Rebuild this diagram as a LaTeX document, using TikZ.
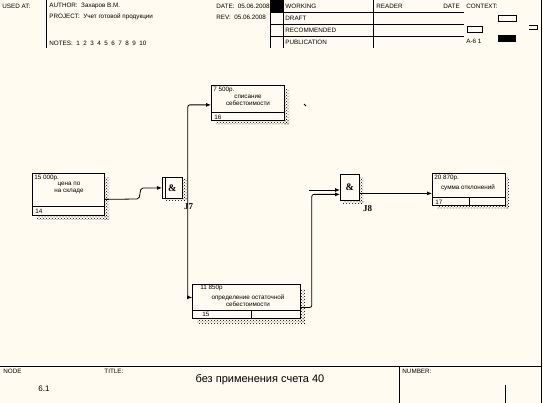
\documentclass[tikz,border=0pt]{standalone}
\usepackage{fontspec}
\setmainfont{Liberation Sans}
\newfontfamily\jfont{Liberation Serif}
\usetikzlibrary{positioning, arrows.meta, patterns}
\definecolor{paper}{RGB}{255,251,240}

\begin{document}
\begin{tikzpicture}[x=1pt, y=-1pt, line width=0.8pt,
    uob/.style={rectangle, draw, fill=paper, anchor=north west, inner sep=0pt},
    junc/.style={rectangle, draw, fill=paper, anchor=north west, inner sep=0pt, minimum width=20pt, minimum height=21pt, font=\jfont\bfseries},
    shade/.style={pattern=crosshatch dots, pattern color=black},
    tiny/.style={font=\fontsize{6.3}{7.3}\selectfont, inner sep=0pt},
    hdr/.style={tiny, anchor=west},
    flow/.style={-{Latex[length=5pt,width=4pt]}}]
    \fill[paper] (0,0) rectangle (543,403);
    \useasboundingbox (0,0) rectangle (543,403);

    % Header
    \draw (46,0) -- (46,48);
    \node[hdr] (usedat) at (2,6) {USED AT:};
    \node[hdr] (author) at (49,6) {AUTHOR:\ \ Захаров В.М.};
    \node[hdr] (project) at (49,17) {PROJECT:\ \ Учет готовой продукции};
    \node[hdr] (notes) at (49,43) {NOTES:\ \ 1\ \ 2\ \ 3\ \ 4\ \ 5\ \ 6\ \ 7\ \ 8\ \ 9\ \ 10};
    \node[hdr] (date) at (216,6) {DATE:\ \ 05.06.2008};
    \node[hdr] (rev) at (216,17) {REV:\ \ 05.06.2008};
    \fill (270,0) rectangle (283,12);
    \draw (270,0) -- (270,48) (283,0) -- (283,48) (373,0) -- (373,48);
    \draw (270,12) -- (464,12) (270,24) -- (464,24) (270,36) -- (464,36);
    \node[hdr] (working) at (285,6) {WORKING};
    \node[hdr] (draft) at (285,18) {DRAFT};
    \node[hdr] (recom) at (285,30) {RECOMMENDED};
    \node[hdr] (publ) at (285,42) {PUBLICATION};
    \node[hdr] (reader) at (376,6) {READER};
    \node[hdr] (rdate) at (443,6) {DATE};
    \node[hdr] (context) at (466,6) {CONTEXT:};
    \draw (498,15) rectangle (516,21);
    \draw (467,26) rectangle (482,32);
    \fill (498,35) rectangle (516,42);
    \draw (529,25) -- (537,25) -- (537,29) -- (529,29);
    \node[hdr] (cnode) at (466,41) {A-6\ 1};
    \draw (541,0) -- (541,403);

    % Footer
    \draw (0,366) -- (541,366);
    \draw (399,366) -- (399,403);
    \draw (505,385) -- (505,403);
    \node[hdr] (node) at (3,371) {NODE};
    \node[hdr] (titlelbl) at (104,371) {TITLE:};
    \node[hdr] (numlbl) at (402,371) {NUMBER:};
    \node[font=\fontsize{11}{13}\selectfont, inner sep=0pt] (title) at (260,380) {без применения счета 40};
    \node[font=\fontsize{8}{9}\selectfont, inner sep=0pt] (nodenum) at (44,389) {6.1};

    % Shadows
    \fill[shade] (104,178) rectangle (109,220);
    \fill[shade] (37,215) rectangle (109,220);
    \fill[shade] (284,90) rectangle (289,125);
    \fill[shade] (216,120) rectangle (289,125);
    \fill[shade] (300,289) rectangle (305,323);
    \fill[shade] (197,318) rectangle (305,323);
    \fill[shade] (505,178) rectangle (509,209);
    \fill[shade] (437,205) rectangle (509,209);
    \fill[shade] (182,180) rectangle (187,201);
    \fill[shade] (165,198) rectangle (187,201);
    \fill[shade] (359,178) rectangle (363,204);
    \fill[shade] (343,200) rectangle (363,204);

    % Boxes
    \node[uob, minimum width=72pt, minimum height=42pt] (b14) at (32,173) {};
    \node[tiny, anchor=north west] (c14) at ([shift={(2,2)}]b14.north west) {15 000р.};
    \node[tiny, align=center] (d14) at (69,188) {цена по\\на складе};
    \node[tiny, anchor=south west] (n14) at ([shift={(3,-2)}]b14.south west) {14};
    \draw ([yshift=9pt]b14.south west) -- ([yshift=9pt]b14.south east);

    \node[uob, minimum width=73pt, minimum height=35pt] (b16) at (211,85) {};
    \node[tiny, anchor=north west] (c16) at ([shift={(2,2)}]b16.north west) {7 500р.};
    \node[tiny, align=center] (d16) at (248,100) {списание\\себестоимости};
    \node[tiny, anchor=south west] (n16) at ([shift={(3,-1)}]b16.south west) {16};
    \draw ([yshift=8pt]b16.south west) -- ([yshift=8pt]b16.south east);

    \node[uob, minimum width=108pt, minimum height=34pt] (b15) at (192,284) {};
    \node[tiny, anchor=north west] (c15) at ([shift={(8,1)}]b15.north west) {11 850р};
    \node[tiny, align=center] (d15) at (248,301) {определение остаточной\\себестоимости};
    \node[tiny, anchor=south west] (n15) at ([shift={(10,-2)}]b15.south west) {15};
    \draw ([yshift=8pt]b15.south west) -- ([yshift=8pt]b15.south east);
    \draw (251,310) -- (251,318);

    \node[uob, minimum width=73pt, minimum height=32pt] (b17) at (432,173) {};
    \node[tiny, anchor=north west] (c17) at ([shift={(2,2)}]b17.north west) {20 870р.};
    \node[tiny] (d17) at (468,188) {сумма отклонений};
    \node[tiny, anchor=south west] (n17) at ([shift={(3,-1)}]b17.south west) {17};
    \draw ([yshift=8pt]b17.south west) -- ([yshift=8pt]b17.south east);
    \draw (469,197) -- (469,205);

    % Junctions
    \node[junc] (j7) at (162,177) {\&};
    \draw ([xshift=3pt]j7.north west) -- ([xshift=3pt]j7.south west);
    \node[font=\jfont\bfseries\small, inner sep=0pt, anchor=north west] (l7) at ([shift={(1,4)}]j7.south east) {J7};
    \node[junc, minimum width=19pt, minimum height=26pt] (j8) at (340,174) {\&};
    \node[font=\jfont\bfseries\small, inner sep=0pt, anchor=north west] (l8) at ([shift={(3,4)}]j8.south east) {J8};

    % Arrows
    \draw[flow] ([yshift=-5pt]b14.east) -- (137,199) to[out=0,in=180] (143,188) -- (j7.west);
    \draw[flow, rounded corners=2pt] ([shift={(5,-10)}]j7.north east) |- ([yshift=-2pt]b16.west);
    \draw[flow, rounded corners=2pt] ([shift={(5,-10)}]j7.north east) |- ([yshift=4pt]b15.west);
    \coordinate (out15) at ([yshift=-6pt]b15.east);
    \draw[flow, rounded corners=2pt] (out15) -- ++(11,0) |- ([yshift=-7pt]j8.west);
    \coordinate (stub8) at (309,190);
    \draw[flow] (stub8) -- (j8.west |- stub8);
    \draw (304,104) -- (306,106);
    \coordinate (in17) at ([yshift=-4pt]b17.west);
    \draw[flow] (j8.east |- in17) -- (in17);
\end{tikzpicture}
\end{document}
